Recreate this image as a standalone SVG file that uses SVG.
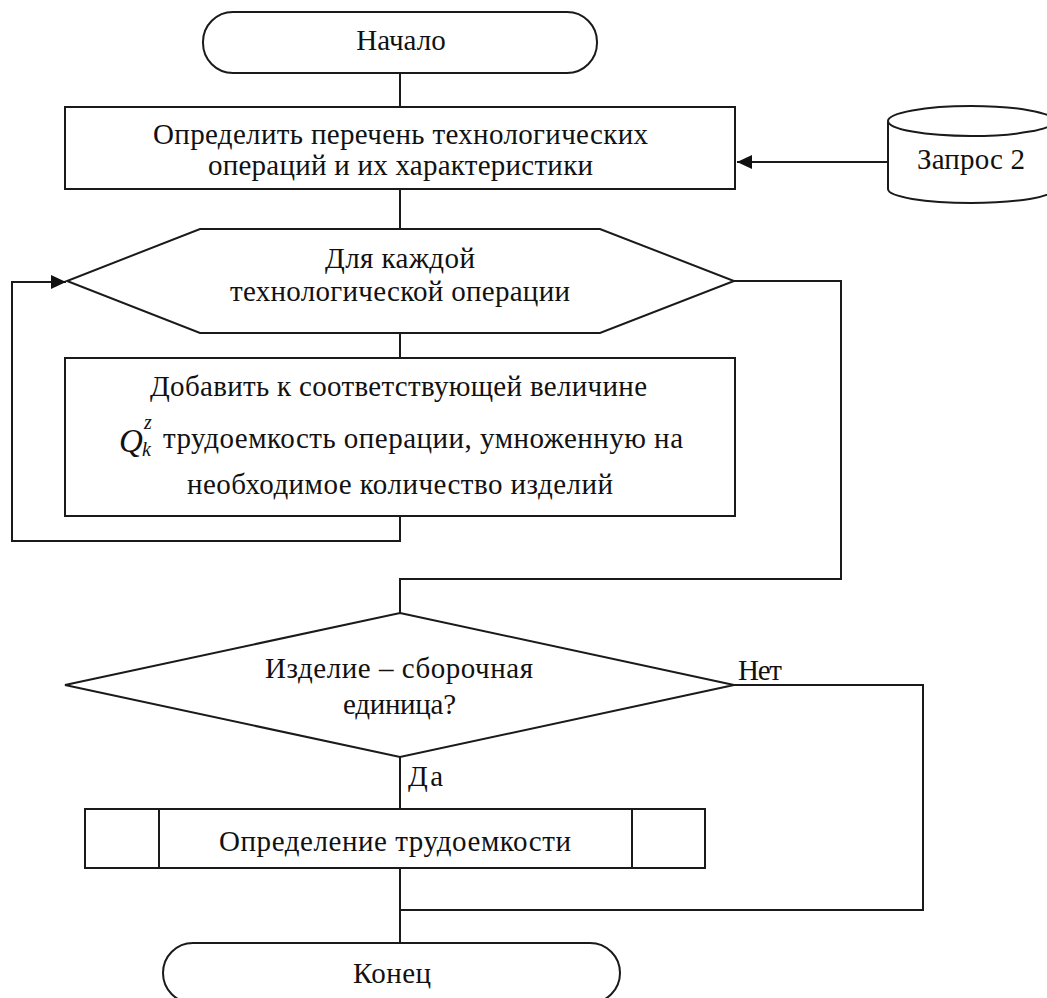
<svg xmlns="http://www.w3.org/2000/svg" width="1047" height="998" viewBox="0 0 1047 998">
<defs>
<style>
.s{fill:#fff;stroke:#1a1a1a;stroke-width:2}
.c{fill:none;stroke:#1a1a1a;stroke-width:2}
text{font-family:"Liberation Serif","Times New Roman",serif;font-size:29px;fill:#111}
.m{text-anchor:middle}
.i{font-style:italic}
</style>
<marker id="ah" markerWidth="16" markerHeight="16" refX="15" refY="7" orient="auto" markerUnits="userSpaceOnUse">
<path d="M0,0 L15,7 L0,14 Z" fill="#111"/>
</marker>
</defs>
<rect width="1047" height="998" fill="#fff"/>
<g id="connectors">
<path class="c" d="M400,73 V107"/>
<path class="c" d="M888,162 H737" marker-end="url(#ah)"/>
<path class="c" d="M400,189 V229"/>
<path class="c" d="M400,333 V358"/>
<path class="c" d="M400,516 V541 H12 V282 H66" marker-end="url(#ah)"/>
<path class="c" d="M734,281 H841 V579 H400 V613"/>
<path class="c" d="M734,685 H923 V910 H400"/>
<path class="c" d="M400,757 V809"/>
<path class="c" d="M400,868 V943"/>
</g>
<g id="start">
<rect class="s" x="203" y="12" width="394" height="61" rx="30" ry="30"/>
<text class="m" x="401" y="50">Начало</text>
</g>
<g id="op-list">
<rect class="s" x="65" y="107" width="670" height="82"/>
<text x="153" y="144" textLength="495">Определить перечень технологических</text>
<text x="208" y="175" textLength="385">операций и их характеристики</text>
</g>
<g id="query2">
<path class="s" d="M888,121 V189 A83,14 0 0 0 1054,189 V121"/>
<ellipse class="s" cx="971" cy="121" rx="83" ry="15"/>
<text x="917" y="169" textLength="108">Запрос 2</text>
</g>
<g id="loop">
<polygon class="s" points="200,229 600,229 734,281 600,333 200,333 67,281"/>
<text x="325" y="268" textLength="150">Для каждой</text>
<text x="230" y="301" textLength="340">технологической операции</text>
</g>
<g id="add">
<rect class="s" x="65" y="358" width="670" height="158"/>
<text x="150" y="396" textLength="497">Добавить к соответствующей величине</text>
<text class="i" x="119" y="452" style="font-size:33px">Q</text>
<text class="i" x="144" y="429" style="font-size:20px">z</text>
<text class="i" x="142" y="456" style="font-size:20px">k</text>
<text x="163" y="448" textLength="520">трудоемкость операции, умноженную на</text>
<text x="187" y="494" textLength="426">необходимое количество изделий</text>
</g>
<g id="decision">
<polygon class="s" points="400,613 734,685 400,757 65,685"/>
<text x="265" y="678" textLength="268">Изделие – сборочная</text>
<text x="343" y="714" textLength="113">единица?</text>
</g>
<g id="labels">
<text x="738" y="680" textLength="44">Нет</text>
<text x="408" y="786" textLength="35">Да</text>
</g>
<g id="labor">
<rect class="s" x="85" y="809" width="620" height="59"/>
<path class="c" d="M159,809 V868 M632,809 V868"/>
<text x="219" y="851" textLength="352">Определение трудоемкости</text>
</g>
<g id="end">
<rect class="s" x="163" y="943" width="457" height="60" rx="30" ry="30"/>
<text x="353" y="983" textLength="78">Конец</text>
</g>
</svg>
